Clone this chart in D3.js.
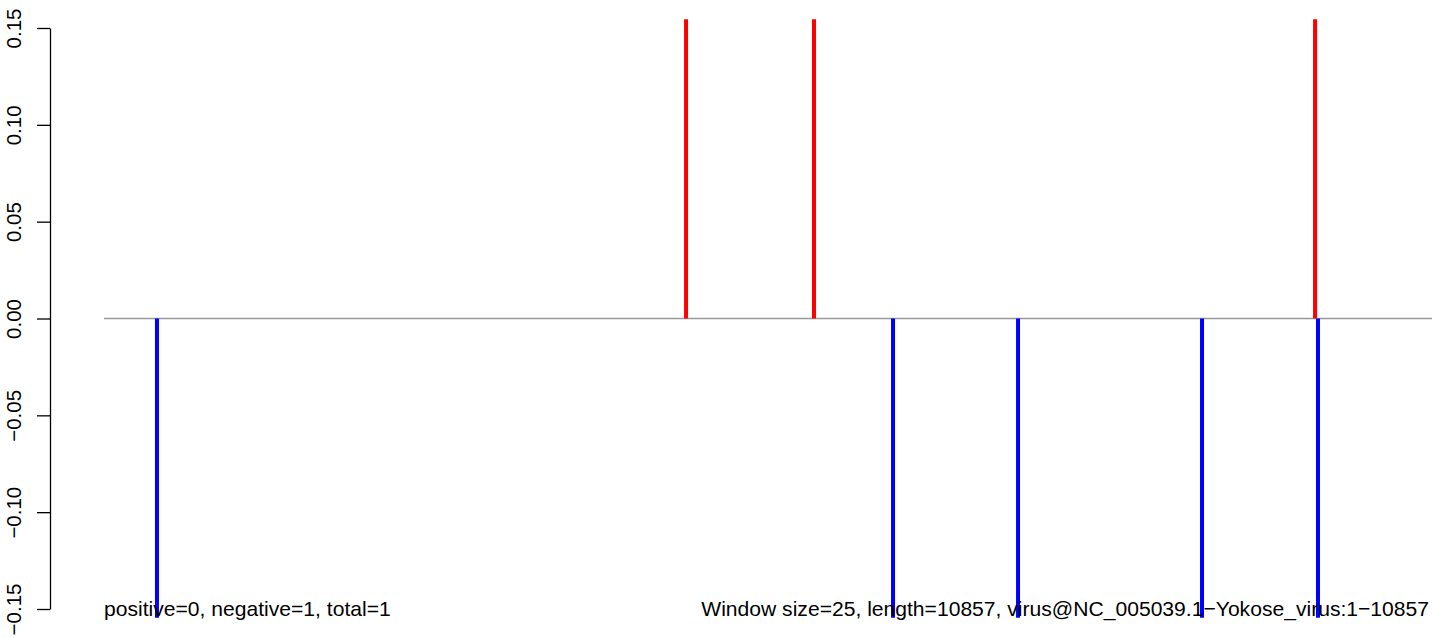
<!DOCTYPE html>
<html>
<head>
<meta charset="utf-8">
<script src="https://cdn.jsdelivr.net/npm/d3@7"></script>
<style>
  html, body { margin: 0; padding: 0; background: #fff; }
  svg { display: block; }
  text { font-family: "Liberation Sans", Arial, Helvetica, sans-serif; }
</style>
</head>
<body>
<svg id="chart" width="1444" height="638"></svg>
<script>
// ---- data ----
const seqLength = 10857;
const positivePositions = [4759, 5805, 9901];
const positiveValues = [0.1545, 0.1545, 0.1545];
const negativePositions = [434, 6451, 7473, 8977, 9925];
const negativeValues = [-0.1545, -0.1545, -0.1545, -0.1545, -0.1545];
const yTicks = [-0.15, -0.10, -0.05, 0.00, 0.05, 0.10, 0.15];
const leftLabel = "positive=0, negative=1, total=1";
const rightLabel = "Window size=25, length=10857, virus@NC_005039.1\u2212Yokose_virus:1\u221210857";

// ---- layout ----
const svg = d3.select("#chart");
const x = d3.scaleLinear().domain([1, seqLength]).range([104, 1432]);
const y = d3.scaleLinear().domain([-0.15, 0.15]).range([609, 28]);
const fontSize = 20.5;
const labelFontSize = 21.1;

// zero line
svg.append("line")
  .attr("x1", x(1)).attr("x2", x(seqLength))
  .attr("y1", y(0)).attr("y2", y(0))
  .attr("stroke", "#999").attr("stroke-width", 1.4);

// bars
const pos = positivePositions.map((p, i) => ({p, v: positiveValues[i], c: "#ff0000"}));
const neg = negativePositions.map((p, i) => ({p, v: negativeValues[i], c: "#0000ff"}));
svg.append("g").selectAll("line").data(pos.concat(neg)).join("line")
  .attr("x1", d => x(d.p)).attr("x2", d => x(d.p))
  .attr("y1", y(0)).attr("y2", d => y(d.v))
  .attr("stroke", d => d.c).attr("stroke-width", 4);

// y axis
const axis = d3.axisLeft(y)
  .tickValues(yTicks)
  .tickSize(13)
  .tickSizeOuter(0)
  .tickFormat(d3.format(".2f"));
const gAxis = svg.append("g").attr("transform", "translate(50,0)").call(axis);
gAxis.select(".domain").attr("stroke", "#000").attr("stroke-width", 1.3);
gAxis.selectAll(".tick line").attr("stroke", "#000").attr("stroke-width", 1.3);
gAxis.selectAll(".tick text")
  .attr("x", 0).attr("y", 0).attr("dy", null)
  .attr("transform", "translate(-29,0) rotate(-90)")
  .attr("text-anchor", "middle")
  .attr("fill", "#000")
  .style("font-size", fontSize + "px")
  .style("font-family", "'Liberation Sans', Arial, sans-serif");

// bottom labels
svg.append("text")
  .attr("x", 104).attr("y", 616)
  .attr("font-size", labelFontSize)
  .attr("fill", "#000")
  .text(leftLabel);
svg.append("text")
  .attr("x", 1429).attr("y", 616)
  .attr("text-anchor", "end")
  .attr("font-size", labelFontSize)
  .attr("fill", "#000")
  .text(rightLabel);
</script>
</body>
</html>
